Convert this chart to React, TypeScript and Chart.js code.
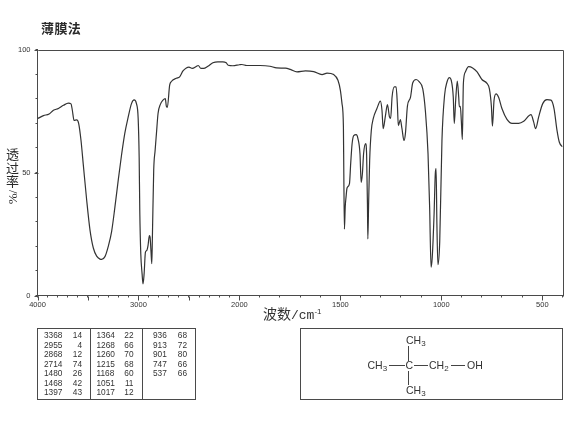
import React, { useEffect, useRef } from "react";
import { Chart, registerables } from "chart.js";

Chart.register(...registerables);

const wavenumbers = [
  4000, 3941, 3885, 3842, 3793, 3743, 3694, 3668, 3655, 3638, 3612, 3592, 3569, 3546, 3513, 3480, 3447, 3414, 3381, 3365,
  3332, 3299, 3266, 3233, 3200, 3168, 3135, 3102, 3069, 3043, 3020, 3003, 2993, 2987, 2977, 2964, 2955, 2944, 2931, 2918,
  2905, 2892, 2885, 2876, 2868, 2862, 2849, 2835, 2822, 2806, 2783, 2757, 2734, 2724, 2714, 2691, 2674, 2625, 2592, 2559,
  2526, 2500, 2467, 2427, 2408, 2381, 2355, 2312, 2263, 2214, 2164, 2131, 2111, 2065, 2000, 1988, 1964, 1898, 1849, 1816,
  1772, 1748, 1715, 1673, 1632, 1591, 1566, 1533, 1512, 1500, 1492, 1485, 1483, 1480, 1476, 1472, 1467, 1455, 1449, 1442,
  1434, 1422, 1413, 1403, 1397, 1391, 1385, 1375, 1370, 1366, 1364, 1360, 1355, 1347, 1337, 1319, 1302, 1294, 1288, 1277,
  1267, 1257, 1251, 1244, 1233, 1224, 1218, 1213, 1203, 1195, 1185, 1178, 1168, 1153, 1142, 1125, 1109, 1092, 1079, 1066,
  1058, 1051, 1045, 1036, 1030, 1026, 1022, 1017, 1008, 997, 984, 972, 960, 951, 941, 936, 929, 921, 914, 911, 906, 901,
  896, 891, 881, 865, 845, 823, 799, 774, 762, 752, 747, 739, 729, 716, 700, 675, 650, 617, 592, 556, 543, 533, 518, 498,
  477, 457, 442, 427, 416, 400,
];

const transmittance = [
  71.9, 73.1, 73.8, 75.3, 76, 77.3, 78.2, 77.9, 75.3, 71.2, 71.4, 69.9, 63, 53, 38.8, 26.6, 19.3, 16, 14.8, 14.7,
  15.8, 20, 26, 36, 47, 57, 66, 72.5, 78, 79.5, 78, 72, 56, 34.6, 17, 8.8, 4.7, 8.8, 17.6, 18.3,
  20.4, 24.4, 23.7, 18, 12.9, 23.7, 50.9, 59, 65.8, 74, 77.7, 79.4, 80, 77, 76.5, 85.5, 87, 88.3, 88.9, 91.3,
  92.5, 92.8, 92.3, 93.1, 93.5, 92.3, 92.3, 93.2, 94.6, 95, 95, 94.6, 93.6, 93.4, 93.8, 93.9, 93.5, 93.5, 93.2, 92.5,
  92.4, 91.9, 90.9, 91.3, 91, 89.8, 90.4, 89.8, 87.5, 83.4, 78, 68.5, 49.5, 27, 36, 40, 43.7, 45.5, 53.6, 61.7,
  65, 65.4, 63.8, 57.7, 46, 49.5, 57.7, 61.7, 57, 37.3, 23, 38, 55, 67, 72, 76, 79, 75.3, 67.8, 73,
  77.6, 72.6, 72, 80.7, 84.8, 84.8, 78, 69, 71.5, 67.8, 63, 65.8, 77, 80.5, 86.4, 87.8, 86.8, 84, 75, 57.7,
  36, 11.5, 15.6, 33, 49.5, 51.6, 29, 12.5, 22, 63, 81.4, 86.8, 88.6, 87.5, 80.7, 69.9, 79.4, 87.2, 80.7, 76.7, 76.9, 71,
  63.4, 86, 90.9, 93, 92.5, 90.9, 87.8, 86.2, 84, 76.7, 68.8, 79.4, 82, 80.5, 76, 71.6, 70, 70, 70.8, 73.5, 70.6, 67.8, 72.6, 78,
  79.6, 79.4, 76, 67, 62.4, 60.4,
];

const xLabels = [4000, 3000, 2000, 1500, 1000, 500];
const yLabels = [0, 50, 100];
const chartTitle = "薄膜法";
const xAxisTitleCjk = "波数";
const xAxisTitleUnit = "/cm";
const xAxisTitleExp = "-1";
const yAxisChars = "透过率";
const yAxisUnit = "%/";

const peakColumns = [
  [["3368", "14"], ["2955", "4"], ["2868", "12"], ["2714", "74"], ["1480", "26"], ["1468", "42"], ["1397", "43"]],
  [["1364", "22"], ["1268", "66"], ["1260", "70"], ["1215", "68"], ["1168", "60"], ["1051", "11"], ["1017", "12"]],
  [["936", "68"], ["913", "72"], ["901", "80"], ["747", "66"], ["537", "66"]],
];

// The spectrometer's x axis changes scale at 2000 cm-1.
const toU = (wn: number) => (wn >= 2000 ? (4000 - wn) / 2 : 1000 + (2000 - wn));
const fromU = (u: number) => (u <= 1000 ? 4000 - 2 * u : 2000 - (u - 1000));

const xTickWn: number[] = [];
for (let w = 4000; w >= 400; w -= 100) xTickWn.push(w);

const INK = "#4a4a4a";
const LABEL_FONT = "'Liberation Sans', sans-serif";
const SERIF_FONT = "'Liberation Serif', 'Noto Sans CJK SC', serif";

const framePlugin = {
  id: "frame",
  afterDraw(chart: any) {
    const { ctx, chartArea: a, scales } = chart;
    ctx.save();
    ctx.strokeStyle = INK;
    ctx.lineWidth = 1;
    ctx.beginPath();
    const L = Math.round(a.left) + 0.5;
    const R = Math.round(a.right) + 0.5;
    const T = Math.round(a.top) + 0.5;
    const B = Math.round(a.bottom) + 0.5;
    ctx.moveTo(L, T);
    ctx.lineTo(R, T);
    ctx.lineTo(R, B);
    for (const w of xTickWn.filter((v) => v % 500 === 0)) {
      const x = Math.round(scales.x.getPixelForValue(toU(w))) + 0.5;
      ctx.moveTo(x, B);
      ctx.lineTo(x, B + 4);
    }
    for (const v of yLabels) {
      const y = Math.round(scales.y.getPixelForValue(v)) + 0.5;
      ctx.moveTo(L, y);
      ctx.lineTo(L - 4, y);
    }
    ctx.stroke();
    ctx.restore();
  },
};

function Ir() {
  const ref = useRef<HTMLCanvasElement | null>(null);
  useEffect(() => {
    if (!ref.current) return;
    const chart = new Chart(ref.current, {
      type: "line",
      data: {
        datasets: [
          {
            data: wavenumbers.map((w, i) => ({ x: toU(w), y: transmittance[i] })),
            borderColor: "#333333",
            borderWidth: 1.2,
            pointRadius: 0,
            cubicInterpolationMode: "monotone",
          },
        ],
      },
      plugins: [framePlugin],
      options: {
        responsive: false,
        animation: false,
        layout: { padding: { top: 49.5, right: 7.5, left: 0, bottom: 0 } },
        plugins: { legend: { display: false }, tooltip: { enabled: false } },
        scales: {
          x: {
            type: "linear",
            min: 0,
            max: 2600,
            afterFit(s: any) {
              s.height = 139.5;
            },
            afterBuildTicks(s: any) {
              s.ticks = xTickWn.map((w) => ({ value: toU(w) }));
            },
            border: { color: INK, width: 1 },
            grid: { drawOnChartArea: false, tickLength: 2, color: INK, tickColor: INK },
            ticks: {
              autoSkip: false,
              maxRotation: 0,
              padding: 3,
              color: "#333",
              font: { family: LABEL_FONT, size: 7.5 },
              callback: (v: any) => {
                const w = Math.round(fromU(Number(v)));
                return xLabels.includes(w) ? String(w) : "";
              },
            },
          },
          y: {
            min: 0,
            max: 100,
            afterFit(s: any) {
              s.width = 37.5;
            },
            border: { color: INK, width: 1 },
            grid: { drawOnChartArea: false, tickLength: 2, color: INK, tickColor: INK },
            ticks: {
              stepSize: 10,
              autoSkip: false,
              padding: 5,
              color: "#333",
              font: { family: LABEL_FONT, size: 7.5 },
              callback: (v: any) => (yLabels.includes(Number(v)) ? String(v) : ""),
            },
          },
        },
      },
    } as any);
    return () => chart.destroy();
  }, []);
  return <canvas ref={ref} width={570} height={435} style={{ position: "absolute", left: 0, top: 0 }} />;
}

const abs = (left: number, top: number): React.CSSProperties => ({ position: "absolute", left, top });

const boxStyle = (left: number, top: number, width: number, height: number): React.CSSProperties => ({
  position: "absolute",
  left,
  top,
  width,
  height,
  boxSizing: "border-box",
  border: `1px solid ${INK}`,
});

const colX = [
  { start: 44, end: 82 },
  { start: 96.5, end: 133.5 },
  { start: 153, end: 187 },
];
const rowY = [335.3, 345, 354.3, 363.6, 373, 382.7, 392];

function PeakTable() {
  const cell: React.CSSProperties = {
    position: "absolute",
    fontFamily: LABEL_FONT,
    fontSize: 8.3,
    lineHeight: "10px",
    color: "#333",
    whiteSpace: "nowrap",
  };
  return (
    <>
      <div style={boxStyle(37, 328, 159, 72)} />
      <div style={{ position: "absolute", left: 90, top: 328, width: 1, height: 72, background: INK }} />
      <div style={{ position: "absolute", left: 142, top: 328, width: 1, height: 72, background: INK }} />
      {peakColumns.map((col, c) =>
        col.map((row, r) => (
          <React.Fragment key={`${c}-${r}`}>
            <div style={{ ...cell, left: colX[c].start, top: rowY[r] - 5 }}>{row[0]}</div>
            <div style={{ ...cell, right: 570 - colX[c].end, top: rowY[r] - 5 }}>{row[1]}</div>
          </React.Fragment>
        ))
      )}
    </>
  );
}

function Structure() {
  const t = { fontFamily: LABEL_FONT, fontSize: 10.5, fill: "#333" };
  const sub = { fontSize: 8, dy: 2 };
  return (
    <svg width={570} height={435} style={{ position: "absolute", left: 0, top: 0 }}>
      <rect x={300.5} y={328.5} width={262} height={71} fill="none" stroke={INK} />
      <g stroke="#444" strokeWidth={1}>
        <line x1={408.5} y1={346} x2={408.5} y2={361} />
        <line x1={408.5} y1={371} x2={408.5} y2={385} />
        <line x1={389} y1={365.5} x2={405} y2={365.5} />
        <line x1={414} y1={365.5} x2={428} y2={365.5} />
        <line x1={451} y1={365.5} x2={465} y2={365.5} />
      </g>
      <text x={406} y={344} {...t}>CH<tspan {...sub}>3</tspan></text>
      <text x={367.5} y={369} {...t}>CH<tspan {...sub}>3</tspan></text>
      <text x={405.5} y={369} {...t}>C</text>
      <text x={429} y={369} {...t}>CH<tspan {...sub}>2</tspan></text>
      <text x={467} y={369} {...t}>OH</text>
      <text x={406} y={394} {...t}>CH<tspan {...sub}>3</tspan></text>
    </svg>
  );
}

export default function App() {
  const label: React.CSSProperties = {
    fontFamily: "'Noto Sans CJK SC', sans-serif",
    color: "#2a2a2a",
    whiteSpace: "nowrap",
  };
  return (
    <div style={{ position: "absolute", left: 0, top: 0, width: 570, height: 435, background: "#fff", overflow: "hidden" }}>
      <Ir />
      <div style={{ ...label, ...abs(41, 19), fontSize: 13, fontWeight: 700, letterSpacing: 0.4, lineHeight: "18px" }}>
        {chartTitle}
      </div>
      <div
        style={{
          ...label,
          ...abs(5, 148),
          fontSize: 13,
          lineHeight: "14px",
          letterSpacing: 0.5,
          writingMode: "vertical-rl",
          textOrientation: "upright",
        }}
      >
        {yAxisChars}
      </div>
      <div
        style={{
          ...label,
          ...abs(12, 197),
          fontFamily: SERIF_FONT,
          fontSize: 13,
          lineHeight: "13px",
          transform: "translate(-50%, -50%) rotate(-90deg)",
        }}
      >
        {yAxisUnit}
      </div>
      <div style={{ ...label, ...abs(263, 304), fontSize: 14, lineHeight: "18px", color: "#333" }}>
        {xAxisTitleCjk}
        <span style={{ fontFamily: "'Liberation Mono', monospace", fontSize: 13 }}>{xAxisTitleUnit}</span>
        <span style={{ fontFamily: LABEL_FONT, fontSize: 8, position: "relative", top: -5 }}>{xAxisTitleExp}</span>
      </div>
      <PeakTable />
      <Structure />
    </div>
  );
}
